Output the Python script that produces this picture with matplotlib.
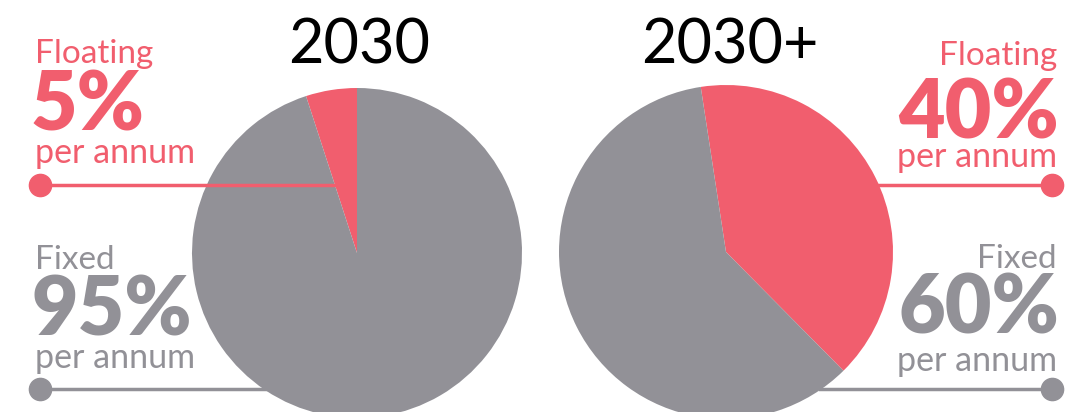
import numpy as np
import matplotlib.pyplot as plt

# data
titles = ['2030', '2030+']
categories = ['Floating', 'Fixed']
shares_2030 = [5, 95]
shares_2030p = [40, 60]
unit = 'per annum'

red = '#F15E6E'
grey = '#929197'
W, H = 1071, 412

plt.rcParams['font.family'] = ['Lato', 'DejaVu Sans']

fig = plt.figure(figsize=(W / 100, H / 100), dpi=100)
ax = fig.add_axes([0, 0, 1, 1])

def py(y):
    # pixel row (from top) -> data y
    return H - y

# connector lines under / over the pies
ax.plot([40, 300], [py(389), py(389)], color=grey, lw=2.5, zorder=1)
ax.plot([820, 1052], [py(389), py(389)], color=grey, lw=2.5, zorder=1)

# pies
ax.pie(shares_2030, colors=[red, grey], startangle=90, counterclock=True,
       center=(357, py(253)), radius=165, wedgeprops=dict(linewidth=0, zorder=2))
ax.pie(shares_2030p, colors=[red, grey], startangle=98.7, counterclock=False,
       center=(726, py(252)), radius=167, wedgeprops=dict(linewidth=0, zorder=2))

ax.plot([40, 335], [py(185), py(185)], color=red, lw=2.5, zorder=3)
ax.plot([878, 1052], [py(185), py(185)], color=red, lw=2.5, zorder=1)
for x, y, c in [(40, 185, red), (40, 389, grey), (1052, 185, red), (1052, 389, grey)]:
    ax.plot(x, py(y), 'o', ms=16, color=c, zorder=4)

# titles
ax.text(359, py(63), titles[0], ha='center', va='baseline', fontsize=44,
        fontweight='normal', color='black')
ax.text(730, py(63), titles[1], ha='center', va='baseline', fontsize=44,
        fontweight='normal', color='black')

def block(x, ha, base, cat, val, col):
    ax.text(x, py(base[0]), cat, ha=ha, va='baseline', fontsize=24,
            fontweight='normal', color=col)
    ax.text(x - 4 if ha == 'left' else x + 2, py(base[1]), f'{val}%', ha=ha,
            va='baseline', fontsize=58, fontweight='heavy', color=col)
    ax.text(x, py(base[2]), unit, ha=ha, va='baseline', fontsize=24.5,
            fontweight='normal', color=col)

block(35, 'left', (63, 130, 163), categories[0], shares_2030[0], red)
block(35, 'left', (269, 336, 368), categories[1], shares_2030[1], grey)
block(1057, 'right', (65, 138, 167), categories[0], shares_2030p[0], red)
block(1057, 'right', (268, 334, 371), categories[1], shares_2030p[1], grey)

ax.set_xlim(0, W)
ax.set_ylim(0, H)
ax.set_aspect('equal')
ax.axis('off')

fig.savefig('out.png', dpi=100)
